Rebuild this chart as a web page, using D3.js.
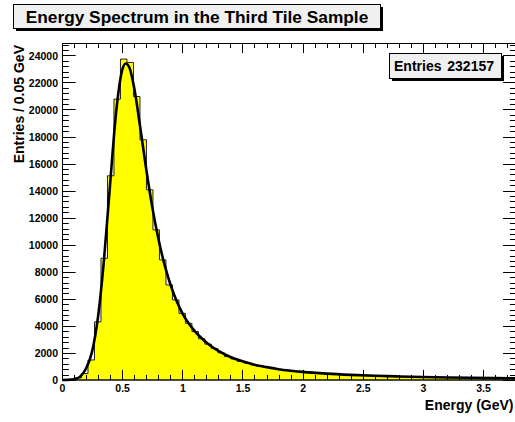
<!DOCTYPE html>
<html>
<head>
<meta charset="utf-8">
<script src="https://cdn.jsdelivr.net/npm/d3@7/dist/d3.min.js"></script>
<style>
  html, body { margin: 0; padding: 0; background: #ffffff; }
  svg { display: block; }
  text { font-family: "Liberation Sans", Arial, Helvetica, sans-serif; font-weight: bold; fill: #000; }
</style>
</head>
<body>
<svg id="chart" width="515" height="422"></svg>
<script>
// Histogram: 70 bins of 0.054 GeV starting at 0
const binWidth = 0.054;
const counts = [
  10, 45, 160, 480, 1480, 4300, 9000, 15100, 20770, 23730,
  23480, 20960, 17760, 14060, 11100, 8880, 7030, 5920, 4930, 4190,
  3580, 3050, 2650, 2320, 2010, 1730, 1560, 1370, 1250, 1120,
  1000, 925, 845, 785, 715, 670, 610, 580, 530, 505,
  465, 450, 415, 400, 370, 360, 335, 325, 300, 295,
  275, 268, 250, 245, 228, 224, 210, 205, 192, 188,
  176, 173, 163, 160, 150, 148, 138, 136, 127, 125
];

// Fitted curve, sampled along energy
const fitE = [0, 0.05, 0.1, 0.15, 0.2, 0.25, 0.3, 0.35, 0.4, 0.45, 0.5, 0.53, 0.56, 0.6, 0.65, 0.7, 0.75, 0.8, 0.85, 0.9,
              0.95, 1.0, 1.1, 1.2, 1.3, 1.4, 1.5, 1.6, 1.7, 1.8, 2.0, 2.2, 2.4, 2.6, 2.8, 3.0, 3.2, 3.4, 3.6, 3.78];
const fitV = [0, 8, 50, 250, 850, 2100, 4700, 9000, 14500, 19800, 22900, 23400, 23100, 21600, 18700, 15600, 12800, 10500, 8600, 7100,
              5900, 4950, 3650, 2780, 2150, 1700, 1380, 1130, 950, 800, 600, 470, 378, 310, 262, 222, 190, 164, 142, 126];

const xTicks = [0, 0.5, 1, 1.5, 2, 2.5, 3, 3.5];
const yTicks = [0, 2000, 4000, 6000, 8000, 10000, 12000, 14000, 16000, 18000, 20000, 22000, 24000];

const titleText = "Energy Spectrum in the Third Tile Sample";
const xTitle = "Energy (GeV)";
const yTitle = "Entries / 0.05 GeV";
const statsLabel = "Entries";
const statsValue = "232157";

const svg = d3.select("#chart");
const frame = { left: 62, top: 43, bottom: 380 };
const xMax = binWidth * counts.length;
const pxPerGeV = 120.3;
frame.right = frame.left + xMax * pxPerGeV;
const yMax = d3.max(counts) * 1.05;

const x = d3.scaleLinear().domain([0, xMax]).range([frame.left, frame.right]);
const y = d3.scaleLinear().domain([0, yMax]).range([frame.bottom, frame.top]);

const plotW = frame.right - frame.left;
const plotH = frame.bottom - frame.top;

// Histogram as a filled step outline
const bins = counts.map((c, i) => ({ x0: i * binWidth, x1: (i + 1) * binWidth, v: c }));
let d = `M${x(0)},${y(0)}`;
bins.forEach(b => { d += `L${x(b.x0)},${y(b.v)}L${x(b.x1)},${y(b.v)}`; });
d += `L${x(xMax)},${y(0)}Z`;
svg.append("path").attr("d", d)
  .attr("fill", "#ffff00")
  .attr("stroke", "#222")
  .attr("stroke-width", 1)
  .attr("stroke-linejoin", "miter");

// Fit curve
const fitPts = fitE.map((e, i) => [e, fitV[i]]);
svg.append("path")
  .datum(fitPts)
  .attr("d", d3.line().x(p => x(p[0])).y(p => y(p[1])).curve(d3.curveMonotoneX))
  .attr("fill", "none")
  .attr("stroke", "#000")
  .attr("stroke-width", 2.6)
  .attr("stroke-linejoin", "round");

// Frame
svg.append("rect")
  .attr("x", frame.left + 0.5).attr("y", frame.top + 0.5)
  .attr("width", plotW).attr("height", plotH - 0.5)
  .attr("fill", "none").attr("stroke", "#000").attr("stroke-width", 1);

// Axes: ticks drawn inward on all four sides
const xMajorLen = 0.03 * plotH, yMajorLen = 0.03 * plotW;
const xMinor = d3.range(0, xMax + 1e-9, 0.1).filter(v => Math.abs(v / 0.5 - Math.round(v / 0.5)) > 1e-6);
const yMinor = d3.range(0, yMax, 400).filter(v => v % 2000 !== 0);

const xAxisB = d3.axisBottom(x).tickValues(xTicks).tickSize(0).tickPadding(0)
  .tickFormat(d3.format("~g"));
const gxb = svg.append("g").attr("transform", `translate(0,${frame.bottom})`).call(xAxisB);
gxb.select(".domain").remove();
gxb.selectAll("text").attr("font-size", 10.5).attr("y", 12).attr("dy", 0).attr("fill", "#000");

const yAxisL = d3.axisLeft(y).tickValues(yTicks).tickSize(0).tickPadding(0).tickFormat(d3.format("d"));
const gyl = svg.append("g").attr("transform", `translate(${frame.left},0)`).call(yAxisL);
gyl.select(".domain").remove();
gyl.selectAll("text").attr("font-size", 10.5).attr("x", -4).attr("dy", "0.36em").attr("fill", "#000");

const tickG = svg.append("g").attr("stroke", "#000").attr("stroke-width", 1);
function xTick(v, len) {
  const px = Math.round(x(v)) + 0.5;
  tickG.append("line").attr("x1", px).attr("x2", px).attr("y1", frame.bottom).attr("y2", frame.bottom - len);
  tickG.append("line").attr("x1", px).attr("x2", px).attr("y1", frame.top).attr("y2", frame.top + len);
}
function yTick(v, len) {
  const py = Math.round(y(v)) + 0.5;
  tickG.append("line").attr("x1", frame.left).attr("x2", frame.left + len).attr("y1", py).attr("y2", py);
  tickG.append("line").attr("x1", frame.right).attr("x2", frame.right - len).attr("y1", py).attr("y2", py);
}
xTicks.forEach(v => xTick(v, xMajorLen));
xMinor.forEach(v => xTick(v, xMajorLen / 2));
yTicks.forEach(v => yTick(v, yMajorLen));
yMinor.forEach(v => yTick(v, yMajorLen / 2));

// Axis titles
svg.append("text").attr("x", 513.5).attr("y", 410).attr("text-anchor", "end")
  .attr("font-size", 14).text(xTitle);
svg.append("text").attr("transform", "translate(23.5,45) rotate(-90)")
  .attr("text-anchor", "end").attr("font-size", 14).text(yTitle);

// Title box with shadow
const tb = { x: 13, y: 4, w: 367, h: 24 };
svg.append("rect").attr("x", tb.x + 3).attr("y", tb.y + 3).attr("width", tb.w).attr("height", tb.h).attr("fill", "#000");
svg.append("rect").attr("x", tb.x + 0.5).attr("y", tb.y + 0.5).attr("width", tb.w).attr("height", tb.h)
  .attr("fill", "#f0f0f0").attr("stroke", "#000").attr("stroke-width", 1);
svg.append("text").attr("x", tb.x + tb.w / 2 + 0.5).attr("y", 23).attr("text-anchor", "middle")
  .attr("font-size", 17.3).text(titleText);

// Stats box with shadow
const sb = { x: 389, y: 53, w: 112, h: 25 };
svg.append("rect").attr("x", sb.x + 3).attr("y", sb.y + 3).attr("width", sb.w).attr("height", sb.h).attr("fill", "#000");
svg.append("rect").attr("x", sb.x + 0.5).attr("y", sb.y + 0.5).attr("width", sb.w).attr("height", sb.h)
  .attr("fill", "#f0f0f0").attr("stroke", "#000").attr("stroke-width", 1);
svg.append("text").attr("x", sb.x + 5).attr("y", sb.y + 18).attr("font-size", 14).text(statsLabel);
svg.append("text").attr("x", sb.x + sb.w - 7).attr("y", sb.y + 18).attr("text-anchor", "end").attr("font-size", 14).text(statsValue);
</script>
</body>
</html>
